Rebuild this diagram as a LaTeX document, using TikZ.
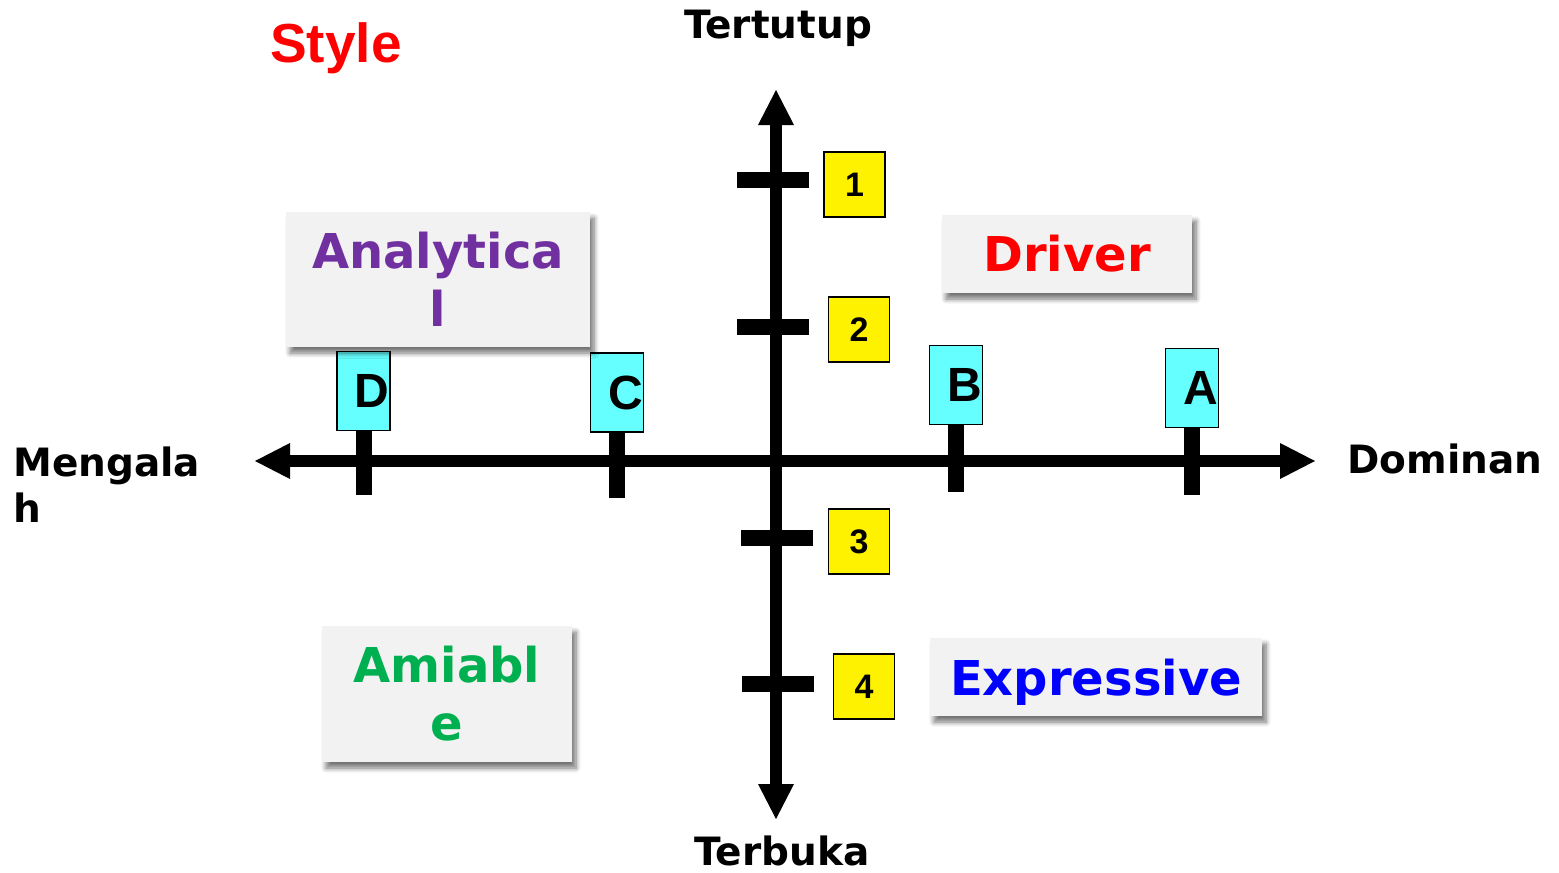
\documentclass[tikz,border=0pt]{standalone}
\usepackage{fontspec}
\newfontfamily\dejavu{DejaVu Sans}
\newfontfamily\arial{Liberation Sans}
\usetikzlibrary{arrows.meta,shadows.blur}
\definecolor{quadbg}{HTML}{F2F2F2}
\definecolor{markcyan}{HTML}{66FFFF}
\definecolor{analyticpurple}{HTML}{7030A0}
\definecolor{amiablegreen}{HTML}{00B050}
\tikzset{
  axis/.style={line width=12pt,
    {Triangle[width=36pt,length=35pt,line width=0pt]}-{Triangle[width=36pt,length=35pt,line width=0pt]}},
  tickbar/.style={line width=16pt},
  numbox/.style={draw=black, line width=1.5pt, fill=yellow, inner sep=0pt,
    minimum width=61pt, minimum height=65pt,
    font=\arial\bfseries\fontsize{34}{38}\selectfont},
  letterbox/.style={draw=black, line width=1.5pt, fill=markcyan, inner sep=0pt,
    minimum width=53pt, minimum height=79pt, text width=52pt, align=right,
    font=\arial\bfseries\fontsize{48}{50}\selectfont},
  quad/.style={fill=quadbg, inner sep=0pt, align=center,
    blur shadow={shadow xshift=4pt, shadow yshift=-6pt, shadow blur radius=5pt,
      shadow blur steps=8, shadow opacity=55},
    font=\dejavu\bfseries\fontsize{48}{58}\selectfont},
  axislabel/.style={inner sep=0pt, font=\dejavu\bfseries\fontsize{39}{46}\selectfont},
}
\begin{document}
\begin{tikzpicture}[x=1pt,y=-1pt]
\useasboundingbox (0,0) rectangle (1559,873);

% title
\node[inner sep=0pt, anchor=base west, text=red,
  font=\arial\bfseries\fontsize{55}{60}\selectfont] (title) at (270,62) {Style};

% axes
\coordinate (axW) at (255,461);
\coordinate (axE) at (1315,461);
\coordinate (axN) at (776,90);
\coordinate (axS) at (776,819);
\draw[axis] (axW) -- (axE);
\draw[axis] (axS) -- (axN);

% scale marks on the vertical axis
\draw[tickbar] (737,180) -- (809,180);
\draw[tickbar] (737,327) -- (809,327);
\draw[tickbar] (741,538) -- (813,538);
\draw[tickbar] (742,684) -- (814,684);

\node[numbox] (n1) at (854.5,184.5) {1};
\node[numbox] (n2) at (859,329.5) {2};
\node[numbox] (n3) at (859,541.5) {3};
\node[numbox] (n4) at (864,686.5) {4};

% scale marks on the horizontal axis with their letters
\node[letterbox] (bD) at (363.5,391) {D};
\node[letterbox] (bC) at (617,392.5) {C};
\node[letterbox] (bB) at (956,385) {B};
\node[letterbox] (bA) at (1192,388) {A};
\draw[tickbar] (bD.south) -- ++(0,64);
\draw[tickbar] (bC.south) -- ++(0,65);
\draw[tickbar] (bB.south) -- ++(0,67);
\draw[tickbar] (bA.south) -- ++(0,67);

% quadrant names
\node[quad, minimum width=304pt, minimum height=135pt, text=analyticpurple] (qAn) at (438,279.5) {Analytica\\l};
\node[quad, minimum width=250pt, minimum height=78pt, text=red] (qDr) at (1067,254) {Driver};
\node[quad, minimum width=250pt, minimum height=136pt, text=amiablegreen] (qAm) at (447,694) {Amiabl\\e};
\node[quad, minimum width=332pt, minimum height=78pt, text=blue, text depth=0pt] (qEx) at (1096,677) {Expressive};

% axis labels
\node[axislabel, anchor=base] (lTop) at (778,38) {Tertutup};
\node[axislabel, anchor=base] (lBot) at (782,865) {Terbuka};
\node[axislabel, anchor=base west] (lRight) at (1347,473) {Dominan};
\node[axislabel, anchor=north west, align=left] (lLeft) at (13,447) {Mengala\\h};
\end{tikzpicture}
\end{document}
